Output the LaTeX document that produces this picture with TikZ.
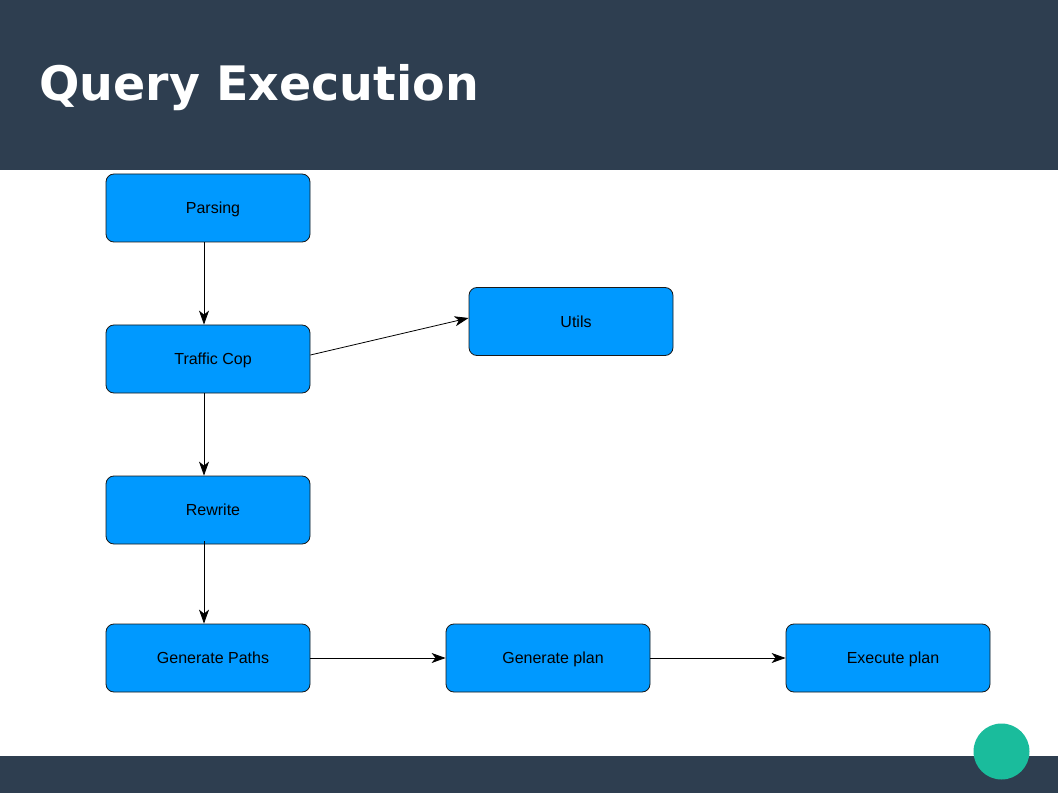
\documentclass[tikz,border=0pt]{standalone}
\usepackage{fontspec}
\setmainfont{Liberation Sans}
\newfontfamily\titlefont{DejaVu Sans}
\usetikzlibrary{positioning,arrows.meta}
\definecolor{slate}{HTML}{2E3E50}
\definecolor{boxblue}{HTML}{0099FF}
\definecolor{dotgreen}{HTML}{1ABC9C}
\tikzset{
     block/.style={rectangle, rounded corners=8pt, draw=black!90, fill=boxblue,
                   minimum width=204pt, minimum height=68pt, line width=0.8pt,
                   font=\fontsize{16}{19}\selectfont, text height=11.5pt, text depth=0pt,
                   execute at begin node=\hspace*{10pt}},
     arrow/.style={-{Stealth[length=14pt,width=10pt,inset=4pt]}, line width=0.8pt}
     }
\begin{document}
\begin{tikzpicture}[x=1pt,y=-1pt]
    % page, header and footer
    \fill[white] (0,0) rectangle (1058,794);
    \fill[slate] (0,0) rectangle (1058,170);
    \fill[slate] (0,756) rectangle (1058,793);
    \fill[dotgreen] (1001.5,751.5) circle (28);
    \node[anchor=base west, inner sep=0, text=white,
          font=\titlefont\bfseries\fontsize{47.5}{50}\selectfont] (title) at (39,101) {Query Execution};

    \node [block] (parsing) at (208,208) {Parsing};
    \node [block, below=82.2pt of parsing] (trafficcop) {Traffic Cop};
    \node [block, below=82.2pt of trafficcop] (rewrite) {Rewrite};
    \node [block, below=79.2pt of rewrite] (paths) {Generate Paths};
    \node [block, right=135.2pt of paths] (plan) {Generate plan};
    \node [block, right=135.2pt of plan] (execute) {Execute plan};
    \node [block, right=158.2pt of trafficcop, yshift=37.5pt] (utils) {Utils};

    \draw [arrow] ([xshift=-4pt]parsing.south) -- ([xshift=-4pt]trafficcop.north);
    \draw [arrow] ([xshift=-4pt]trafficcop.south) -- ([xshift=-4pt]rewrite.north);
    \draw [arrow] ([xshift=-4pt,yshift=3pt]rewrite.south) -- ([xshift=-4pt]paths.north);
    \draw [arrow] ([yshift=4pt]trafficcop.east) -- ([yshift=3.5pt]utils.west);
    \draw [arrow] (paths) -- (plan);
    \draw [arrow] (plan) -- (execute);

\end{tikzpicture}
\end{document}
